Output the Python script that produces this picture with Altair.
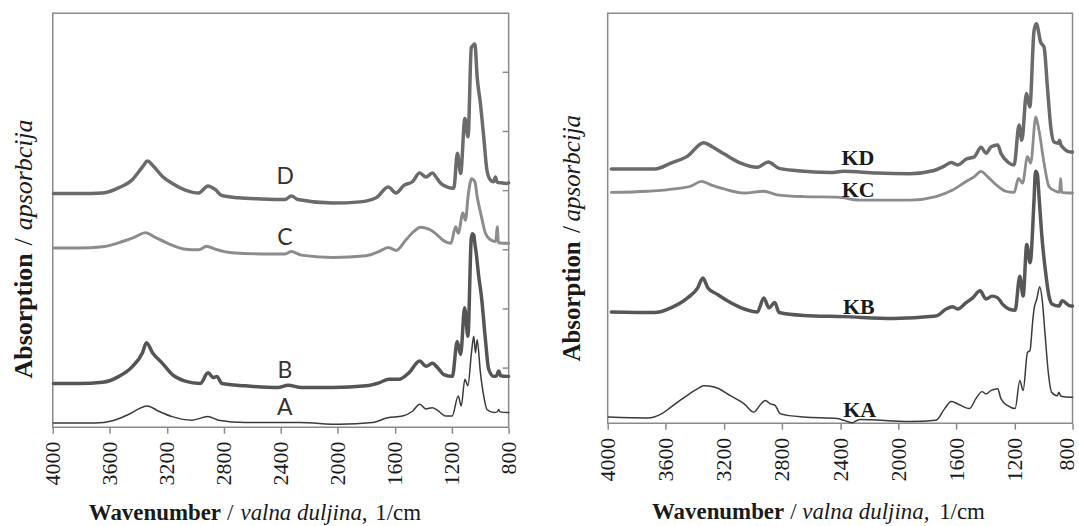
import altair as alt
import pandas as pd

# ---------------- data: wavenumber (1/cm) and absorption (arbitrary units) ----------------
# Left panel
L_D_wn = [3995, 3810, 3650, 3535, 3440, 3370, 3335, 3300, 3230, 3160, 3070, 2975, 2910, 2860, 2815,
          2700, 2535, 2370, 2325, 2280, 2035, 1845, 1730, 1645, 1590, 1535, 1475, 1425, 1380, 1335,
          1310, 1275, 1230, 1185, 1160, 1137, 1107, 1085, 1062, 1048, 1037, 1021, 998, 975, 952,
          928, 905, 893, 880, 840, 814, 800]
L_D_ab = [39.5, 39.5, 39.6, 40.5, 41.9, 44.0, 45.0, 44.3, 42.4, 41.2, 40.1, 39.6, 40.8, 40.2, 39.2,
          38.8, 38.6, 38.5, 39.1, 38.5, 37.9, 38.1, 38.8, 40.6, 39.6, 40.9, 41.5, 43.0, 42.3, 43.0,
          42.3, 41.2, 40.6, 40.4, 46.3, 42.9, 52.2, 49.1, 64.2, 64.6, 64.8, 59.2, 54.7, 49.1, 43.4,
          41.8, 41.5, 42.3, 41.4, 41.3, 41.2, 41.3]

L_C_wn = [3995, 3815, 3650, 3510, 3420, 3350, 3280, 3185, 3070, 2975, 2920, 2860, 2745, 2535, 2370,
          2325, 2255, 2035, 1800, 1710, 1645, 1590, 1520, 1465, 1420, 1360, 1310, 1265, 1205, 1172,
          1154, 1121, 1103, 1084, 1060, 1037, 1021, 991, 963, 928, 890, 880, 872, 812, 800]
L_C_ab = [30.3, 30.3, 30.5, 31.4, 32.2, 32.9, 32.1, 31.0, 30.1, 30.0, 30.6, 30.1, 29.5, 29.3, 29.3,
          29.7, 29.1, 28.7, 29.0, 29.7, 30.4, 29.9, 31.7, 33.1, 33.8, 33.5, 32.7, 31.7, 31.1, 33.9,
          32.8, 36.2, 35.0, 39.2, 42.0, 41.5, 39.0, 35.6, 32.8, 31.7, 31.4, 33.9, 31.2, 31.1, 31.1]

L_B_wn = [3995, 3815, 3650, 3535, 3440, 3370, 3342, 3300, 3230, 3160, 3070, 2965, 2910, 2872, 2848,
          2813, 2650, 2420, 2348, 2255, 2035, 1800, 1710, 1640, 1570, 1500, 1425, 1380, 1335, 1300,
          1255, 1195, 1161, 1137, 1109, 1086, 1063, 1056, 1045, 1037, 1029, 1010, 991, 963, 940,
          905, 885, 870, 855, 812, 800]
L_B_ab = [7.4, 7.4, 7.6, 8.6, 10.3, 12.6, 14.3, 12.6, 10.8, 8.9, 7.8, 7.4, 9.2, 8.4, 8.6,
          7.4, 7.0, 6.7, 7.1, 6.7, 6.7, 7.0, 7.5, 8.1, 8.1, 9.2, 11.2, 10.3, 10.8, 10.1,
          8.9, 8.6, 14.5, 12.3, 20.2, 15.4, 31.7, 32.7, 32.5, 31.0, 29.7, 25.5, 22.1, 14.8, 9.8,
          8.6, 8.7, 9.5, 8.7, 8.6, 8.6]

L_A_wn = [3995, 3700, 3580, 3465, 3337, 3256, 3162, 3023, 2911, 2837, 2650, 2266, 1987, 1755, 1650,
          1545, 1475, 1424, 1382, 1336, 1301, 1243, 1196, 1154, 1133, 1107, 1086, 1061, 1045, 1033,
          1021, 998, 975, 952, 905, 880, 870, 860, 812, 800]
L_A_ab = [0.7, 0.7, 1.1, 2.2, 3.6, 2.7, 1.8, 1.2, 1.8, 1.2, 0.8, 0.8, 0.5, 0.8, 1.6,
          1.9, 2.7, 3.9, 3.1, 3.3, 2.9, 1.9, 1.9, 5.3, 3.6, 8.1, 7.0, 12.6, 15.4, 12.6,
          14.8, 9.2, 5.3, 3.0, 2.5, 2.6, 3.0, 2.6, 2.5, 2.5]

# Right panel
R_KD_wn = [3975, 3835, 3675, 3565, 3450, 3340, 3280, 3200, 3085, 2970, 2895, 2820, 2695, 2470, 2375,
           2150, 1920, 1760, 1690, 1635, 1590, 1530, 1475, 1430, 1395, 1360, 1315, 1293, 1246, 1202,
           1168, 1149, 1117, 1094, 1065, 1049, 1019, 996, 973, 950, 928, 898, 890, 880, 812, 800]
R_KD_ab = [43.4, 43.4, 43.4, 44.4, 45.6, 47.9, 47.2, 46.0, 44.4, 43.7, 44.6, 43.5, 43.1, 42.8, 43.0,
           42.7, 42.6, 43.1, 43.8, 44.5, 44.1, 45.1, 45.5, 47.1, 46.1, 47.2, 47.5, 46.1, 44.6, 44.1,
           50.9, 48.3, 56.3, 54.0, 67.0, 68.2, 65.0, 64.2, 57.4, 50.6, 48.0, 47.8, 48.3, 47.5, 46.3, 46.3]

R_KC_wn = [3975, 3725, 3540, 3425, 3355, 3290, 3200, 3060, 2925, 2835, 2650, 2420, 2265, 1920, 1740,
           1625, 1530, 1475, 1430, 1385, 1325, 1260, 1202, 1172, 1144, 1110, 1088, 1053, 1031, 996,
           962, 916, 890, 882, 874, 814, 800]
R_KC_ab = [39.4, 39.6, 40.0, 40.5, 41.3, 40.7, 40.0, 39.3, 39.6, 39.0, 38.7, 38.6, 38.1, 38.1, 38.7,
           39.8, 41.3, 42.1, 43.0, 42.1, 40.7, 39.6, 39.4, 41.8, 41.0, 45.5, 44.4, 52.3, 50.0, 44.4,
           40.4, 39.6, 39.4, 41.8, 39.4, 39.3, 39.3]

R_KB_wn = [3975, 3675, 3565, 3450, 3380, 3345, 3310, 3245, 3155, 3060, 2970, 2925, 2890, 2850, 2820,
           2650, 2375, 2035, 1740, 1670, 1628, 1590, 1532, 1487, 1437, 1395, 1354, 1315, 1281, 1236,
           1195, 1163, 1140, 1115, 1092, 1065, 1055, 1042, 1030, 1013, 985, 962, 939, 894, 871, 814, 800]
R_KB_ab = [19.0, 18.9, 19.7, 21.4, 23.1, 24.8, 23.1, 22.0, 20.6, 19.5, 19.0, 21.4, 19.7, 20.6, 18.9,
           18.4, 18.2, 17.9, 18.3, 19.5, 19.9, 19.5, 20.6, 21.4, 22.6, 21.2, 21.7, 21.4, 20.3, 19.5,
           19.3, 25.1, 21.7, 30.5, 27.4, 38.1, 43.0, 42.5, 38.5, 32.5, 25.7, 21.7, 20.3, 20.0, 20.9, 20.0, 20.0]

R_KA_wn = [3995, 3725, 3630, 3565, 3470, 3380, 3340, 3265, 3155, 3060, 2995, 2945, 2915, 2880, 2850,
           2810, 2650, 2420, 2375, 2320, 2265, 1920, 1740, 1680, 1635, 1590, 1510, 1465, 1423, 1395,
           1360, 1315, 1293, 1246, 1195, 1163, 1140, 1110, 1093, 1075, 1065, 1046, 1026, 1008, 990,
           967, 944, 905, 894, 880, 814, 800]
R_KA_ab = [1.05, 0.9, 1.6, 2.75, 4.45, 5.9, 6.4, 6.2, 4.7, 3.3, 1.9, 3.3, 3.9, 3.3, 3.1,
           1.6, 1.05, 0.8, 0.5, 0.1, 0.65, 0.3, 0.5, 2.5, 3.7, 3.3, 2.5, 4.2, 5.4, 5.0,
           5.6, 5.9, 4.2, 3.0, 2.5, 7.3, 5.6, 12.1, 12.4, 17.2, 19.5, 21.2, 23.3, 20.9, 15.5,
           8.7, 5.3, 4.7, 5.3, 4.6, 4.45, 4.45]

# curve labels
L_lab_text = ["D", "C", "B", "A"]
L_lab_wn = [2368, 2371, 2371, 2371]
L_lab_ab = [42.3, 32.0, 9.5, 3.2]
R_lab_text = ["KD", "KC", "KB", "KA"]
R_lab_wn = [2278, 2275, 2272, 2265]
R_lab_ab = [45.3, 39.8, 19.9, 2.2]

x_tick_values = [4000, 3600, 3200, 2800, 2400, 2000, 1600, 1200, 800]
inner_right_ticks = [10, 20, 30, 40, 50, 60]

FRAME = "#8a8a8a"
SERIF = "Liberation Serif, Times New Roman, Times, serif"


def text_piece(s, x, y, size, weight="normal", style="normal", angle=0, align="center",
               baseline="alphabetic", font=SERIF, color="#1a1a1a"):
    return alt.Chart(pd.DataFrame({"t": [s]})).mark_text(
        font=font, fontSize=size, fontWeight=weight, fontStyle=style, angle=angle,
        align=align, baseline=baseline, color=color
    ).encode(x=alt.value(x), y=alt.value(y), text="t:N")


def panel(series, labs, W, H, lab_font, lab_size, lab_weight, lab_color, ytitle, xtitle,
          inner_ticks=False, last_offset=0):
    xs = alt.Scale(domain=[4000, 800], nice=False, zero=False)
    ys = alt.Scale(domain=[0, 70], nice=False, zero=False)
    axis = alt.Axis(values=x_tick_values, title=None, grid=False, domain=False, ticks=True,
                    tickSize=6, tickWidth=1.5, tickColor=FRAME, labelAngle=270, labelFont=SERIF,
                    labelFontSize=22, labelColor="#1a1a1a", labelPadding=8, labelAlign="right",
                    labelBaseline="middle", format="d", labelOverlap=False,
                    labelOffset={"condition": {"test": "datum.value === 800", "value": last_offset},
                                 "value": 0})
    layers = []
    for wn, ab, color, sw in series:
        df = pd.DataFrame({"wn": wn, "ab": ab})
        layers.append(alt.Chart(df).mark_line(color=color, strokeWidth=sw, strokeJoin="round",
                                              strokeCap="round", interpolate="monotone").encode(
            x=alt.X("wn:Q", scale=xs, axis=axis),
            y=alt.Y("ab:Q", scale=ys, axis=None)))
    ldf = pd.DataFrame({"t": labs[0], "wn": labs[1], "ab": labs[2]})
    layers.append(alt.Chart(ldf).mark_text(font=lab_font, fontSize=lab_size, fontWeight=lab_weight,
                                           color=lab_color, baseline="middle", align="center").encode(
        x=alt.X("wn:Q", scale=xs, axis=axis),
        y=alt.Y("ab:Q", scale=ys, axis=None),
        text="t:N"))
    if inner_ticks:
        tdf = pd.DataFrame({"v": inner_right_ticks})
        layers.append(alt.Chart(tdf).mark_rule(color=FRAME, strokeWidth=1.5).encode(
            x=alt.value(W - 6), x2=alt.value(W), y=alt.Y("v:Q", scale=ys, axis=None)))
    # y title (rotated, mixed styles)
    yx, y_end_abs, y_slash, y_start_apso, ysize = ytitle
    layers.append(text_piece("Absorption", yx, y_end_abs, ysize, weight="bold", angle=270,
                             align="right", baseline="middle"))
    layers.append(text_piece("/", yx, y_slash, ysize, angle=270, align="center", baseline="middle"))
    layers.append(text_piece("apsorbcija", yx, y_start_apso, ysize, style="italic", angle=270,
                             align="left", baseline="middle"))
    # x title (mixed styles)
    by, wn_end, sl, va, cm, xsize = xtitle
    layers.append(text_piece("Wavenumber", wn_end, by, xsize, weight="bold", align="right"))
    layers.append(text_piece("/", sl, by, xsize, align="center"))
    layers.append(text_piece("valna duljina,", va, by, xsize, style="italic", align="left"))
    layers.append(text_piece("1/cm", cm, by, xsize, align="left"))
    return alt.layer(*layers).properties(width=W, height=H)


left = panel(
    [(L_D_wn, L_D_ab, "#6b6b6b", 3.5), (L_C_wn, L_C_ab, "#8c8c8c", 3.0),
     (L_B_wn, L_B_ab, "#555555", 3.5), (L_A_wn, L_A_ab, "#3a3a3a", 1.5)],
    (L_lab_text, L_lab_wn, L_lab_ab), 458, 416, "Lato", 23, "normal", "#333333",
    (-28.4, 241.3, 229.7, 218.0, 26), (508.7, 169.0, 178.3, 188.6, 324.0, 23),
    inner_ticks=True, last_offset=0)

right = panel(
    [(R_KD_wn, R_KD_ab, "#6a6a6a", 3.5), (R_KC_wn, R_KC_ab, "#8c8c8c", 2.8),
     (R_KB_wn, R_KB_ab, "#575757", 3.5), (R_KA_wn, R_KA_ab, "#3a3a3a", 1.5)],
    (R_lab_text, R_lab_wn, R_lab_ab), 467, 412, SERIF, 22, "bold", "#1a1a1a",
    (-36.0, 229.2, 217.5, 209.2, 25), (508.2, 177.3, 186.5, 195.5, 333.0, 23),
    inner_ticks=False, last_offset=-6)

chart = alt.hconcat(left, right, spacing=99.5, bounds="flush").properties(
    padding={"left": 10, "top": 11, "right": 0, "bottom": 0}
).configure_view(stroke=FRAME, strokeWidth=1.5)

chart.save("out.html", embed_options={"renderer": "svg", "actions": False})
